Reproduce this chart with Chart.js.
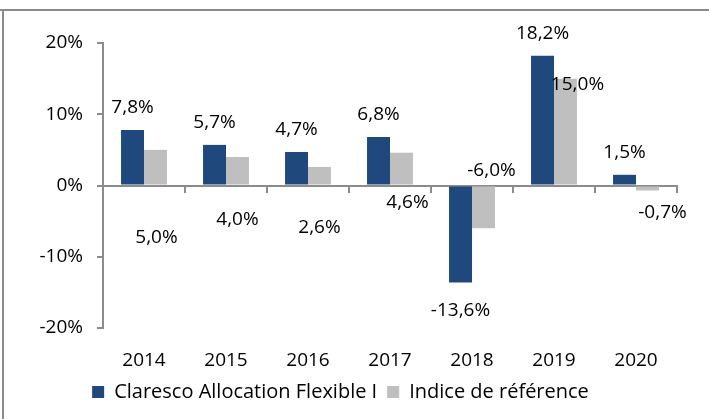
<!DOCTYPE html>
<html>
<head>
<meta charset="utf-8">
<script src="https://cdn.jsdelivr.net/npm/chart.js@4.4.1/dist/chart.umd.min.js"></script>
<style>
  html, body { margin: 0; padding: 0; background: #fff; }
  #wrap { position: relative; width: 709px; height: 419px; }
</style>
</head>
<body>
<div id="wrap"><canvas id="c" width="709" height="419"></canvas></div>
<script>
// ---- data ----
const years = ['2014', '2015', '2016', '2017', '2018', '2019', '2020'];
const fundName = 'Claresco Allocation Flexible I';
const refName = 'Indice de référence';
const fundValues = [7.8, 5.7, 4.7, 6.8, -13.6, 18.2, 1.5];
const refValues = [5.0, 4.0, 2.6, 4.6, -6.0, 15.0, -0.7];
const yTicks = [-20, -10, 0, 10, 20];

// ---- label placement (pixel offsets from bar tip, manual like the source) ----
const refLabelOffsets = [[1, 88], [0, 63], [0, 61], [6, 50], [8, -58], [12, 6], [15, 22]];

const FONT = "'Open Sans', sans-serif";
const FS = 19;
const fmt = v => v.toFixed(1).replace('.', ',') + '%';

const frame = {
  id: 'frame',
  beforeDraw(chart) {
    const ctx = chart.ctx;
    ctx.save();
    ctx.strokeStyle = '#8c8c8c';
    ctx.lineWidth = 2;
    ctx.beginPath();
    ctx.moveTo(0, 10); ctx.lineTo(709, 10);
    ctx.moveTo(3, 10); ctx.lineTo(3, 419);
    ctx.stroke();
    ctx.restore();
  }
};

const labels = {
  id: 'barLabels',
  afterDatasetsDraw(chart) {
    const ctx = chart.ctx;
    ctx.save();
    ctx.font = FS + 'px ' + FONT;
    ctx.fillStyle = '#000';
    ctx.textAlign = 'center';
    ctx.textBaseline = 'middle';
    chart.data.datasets.forEach((ds, di) => {
      const meta = chart.getDatasetMeta(di);
      meta.data.forEach((bar, i) => {
        const v = ds.data[i];
        let x = bar.x, y;
        if (di === 0) {
          y = v >= 0 ? bar.y - 22 : bar.y + 28;
        } else {
          x += refLabelOffsets[i][0];
          y = bar.y + refLabelOffsets[i][1];
        }
        ctx.fillText(fmt(v), x, y);
      });
    });
    ctx.restore();
  }
};

new Chart(document.getElementById('c'), {
  type: 'bar',
  data: {
    labels: years,
    datasets: [
      { label: fundName, data: fundValues, backgroundColor: '#1F497D', borderWidth: 0 },
      { label: refName, data: refValues, backgroundColor: '#BFBFBF', borderWidth: 0 }
    ]
  },
  options: {
    responsive: false,
    animation: false,
    events: [],
    layout: { padding: { left: 4, right: 32, top: 43, bottom: 7 } },
    datasets: { bar: { categoryPercentage: 0.56, barPercentage: 1.0 } },
    plugins: {
      tooltip: { enabled: false },
      legend: {
        position: 'bottom',
        labels: {
          boxWidth: 12, boxHeight: 12, padding: 10,
          color: '#000',
          font: { family: FONT, size: 20 }
        }
      }
    },
    scales: {
      x: {
        grid: { display: false, drawTicks: false },
        border: { display: false },
        ticks: { color: '#000', font: { family: FONT, size: FS }, padding: 21 },
        afterFit(s) { s.height = 44; }
      },
      x0: {
        type: 'category',
        position: { y: 0 },
        grid: { offset: true, drawOnChartArea: false, drawTicks: true, tickLength: 6, color: '#8c8c8c', lineWidth: 2 },
        border: { display: true, color: '#8c8c8c', width: 2 },
        ticks: { display: false }
      },
      y: {
        min: -20, max: 20,
        afterBuildTicks(s) { s.ticks = yTicks.map(v => ({ value: v })); },
        grid: { drawOnChartArea: false, drawTicks: true, tickLength: 6, color: '#8c8c8c', lineWidth: 2 },
        border: { display: true, color: '#8c8c8c', width: 2 },
        ticks: { color: '#000', font: { family: FONT, size: FS }, padding: 14, callback: v => v + '%' },
        afterFit(s) { s.width = 99; }
      }
    }
  },
  plugins: [frame, labels]
});
</script>
</body>
</html>
